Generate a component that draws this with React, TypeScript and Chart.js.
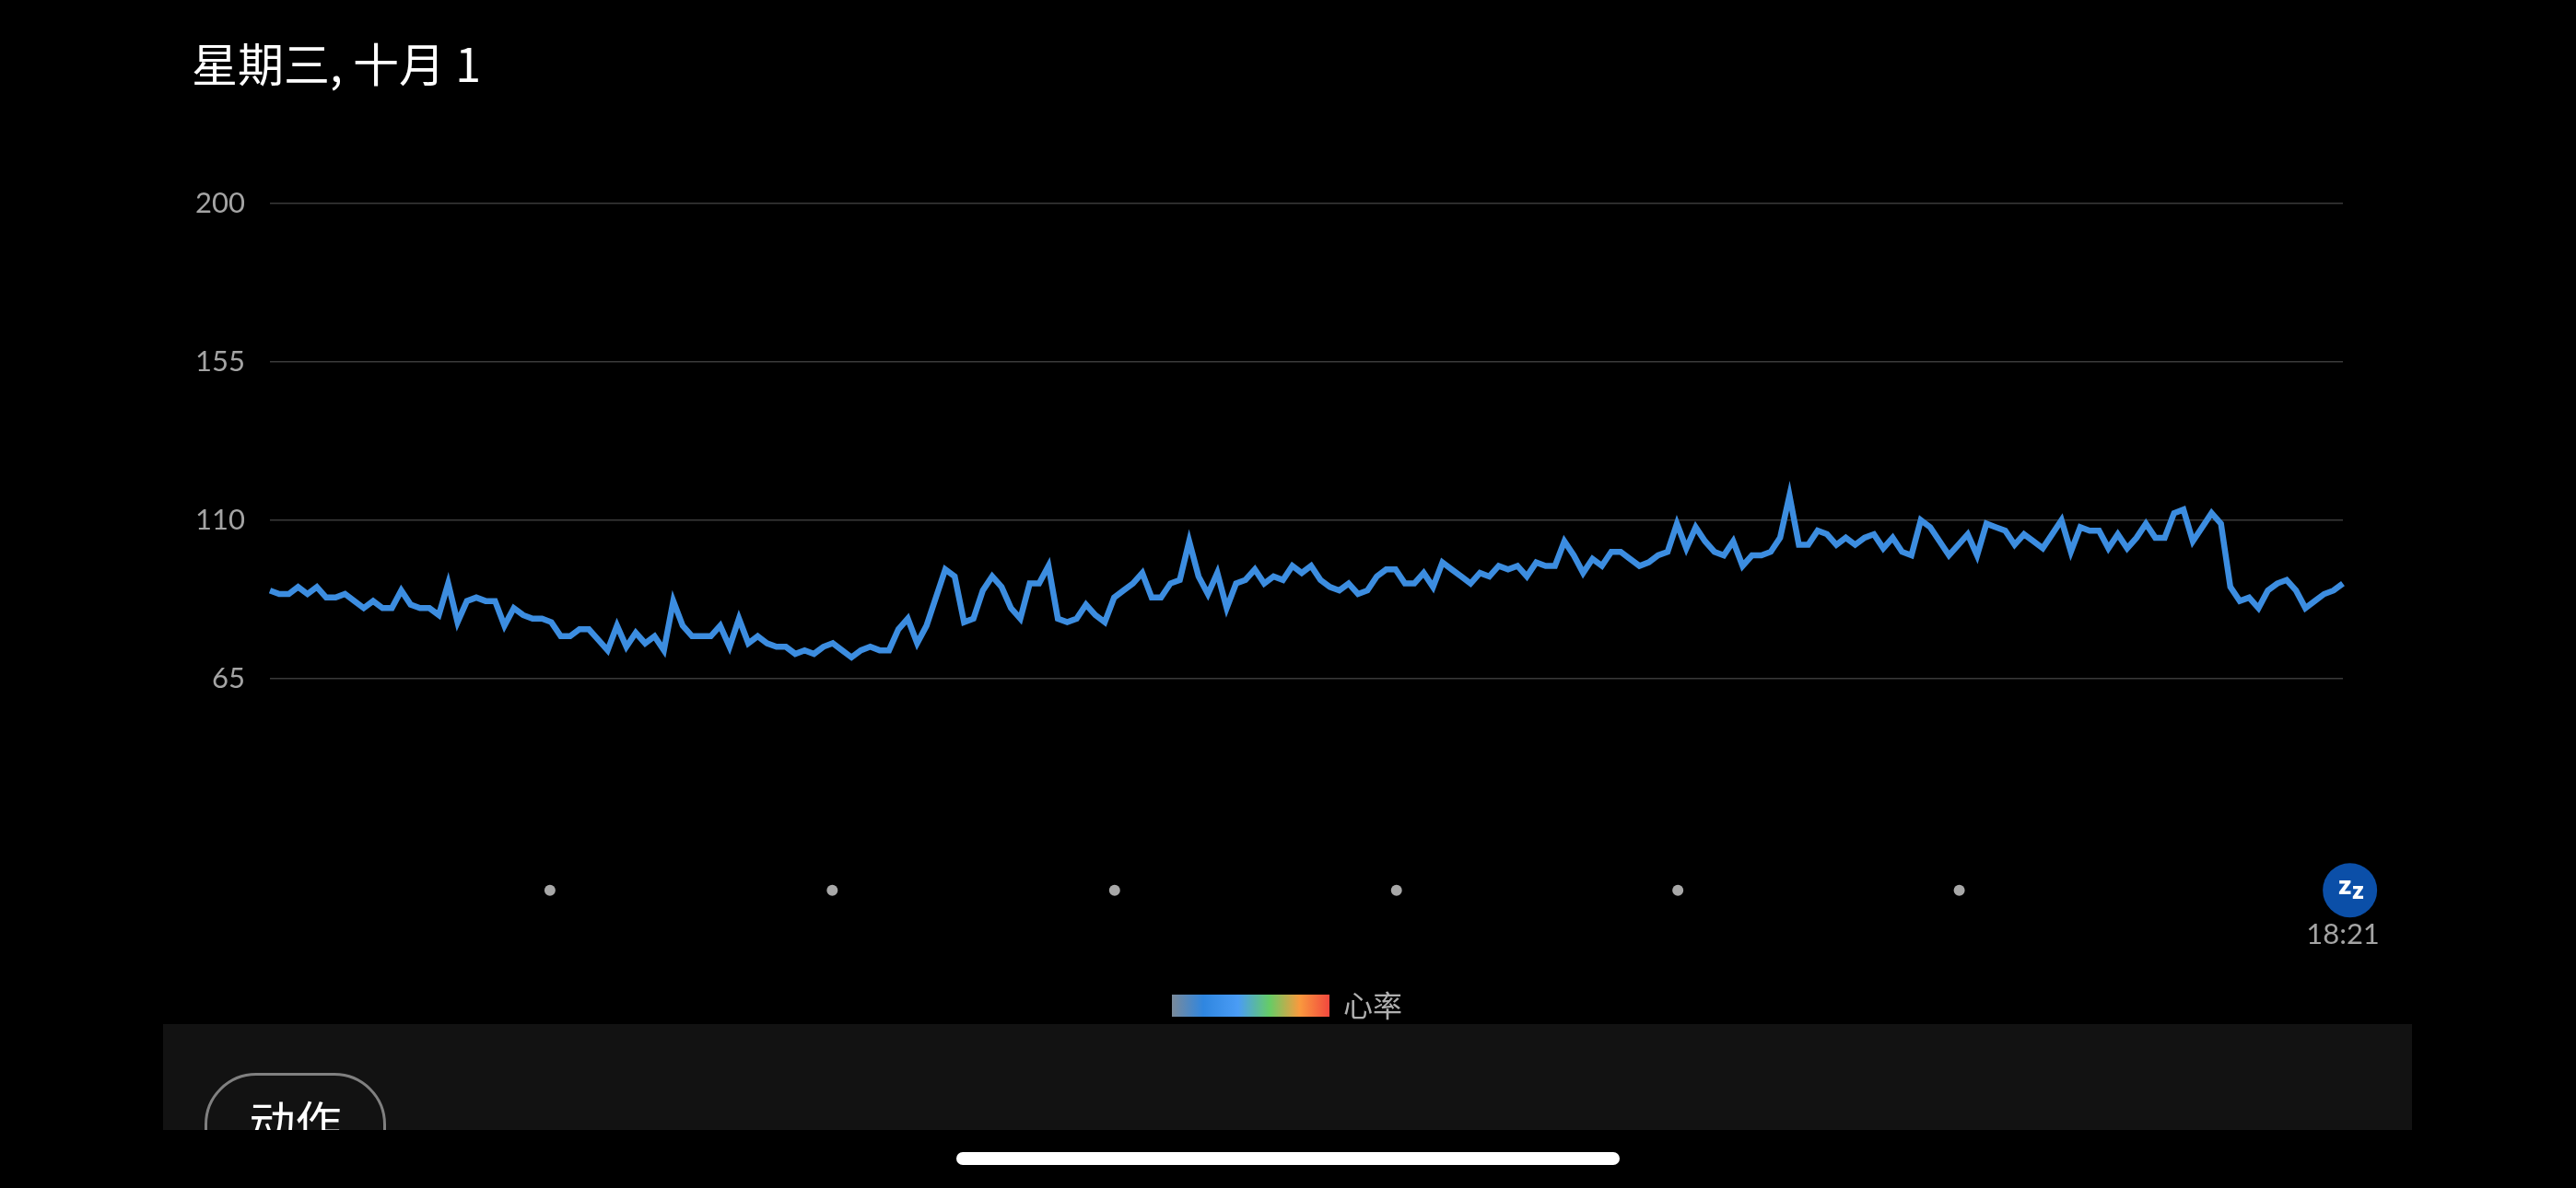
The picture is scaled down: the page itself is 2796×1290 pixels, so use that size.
import React, { useEffect, useRef } from "react";
import { Chart, registerables } from "chart.js";

Chart.register(...registerables);

const heartRate: number[] = [
  90, 89, 89, 91, 89, 91, 88, 88, 89, 87, 85, 87, 85, 85, 90, 86, 85, 85, 83, 92,
  81, 87, 88, 87, 87, 80, 85, 83, 82, 82, 81, 77, 77, 79, 79, 76, 73, 80, 74, 78,
  75, 77, 73, 87, 80, 77, 77, 77, 80, 74, 82, 75, 77, 75, 74, 74, 72, 73, 72, 74,
  75, 73, 71, 73, 74, 73, 73, 79, 82, 75, 80, 88, 96, 94, 81, 82, 90, 94, 91, 85,
  82, 92, 92, 97, 82, 81, 82, 86, 83, 81, 88, 90, 92, 95, 88, 88, 92, 93, 104, 94,
  89, 95, 85, 92, 93, 96, 92, 94, 93, 97, 95, 97, 93, 91, 90, 92, 89, 90, 94, 96,
  96, 92, 92, 95, 91, 98, 96, 94, 92, 95, 94, 97, 96, 97, 94, 98, 97, 97, 104, 100,
  95, 99, 97, 101, 101, 99, 97, 98, 100, 101, 109, 102, 108, 104, 101, 100, 104, 97, 100, 100,
  101, 105, 117, 103, 103, 107, 106, 103, 105, 103, 105, 106, 102, 105, 101, 100, 110, 108, 104, 100,
  103, 106, 100, 109, 108, 107, 103, 106, 104, 102, 106, 110, 101, 108, 107, 107, 102, 106, 102, 105,
  109, 105, 105, 112, 113, 104, 108, 112, 109, 91, 87, 88, 85, 90, 92, 93, 90, 85, 87, 89,
  90, 92,
];
const yTicks: number[] = [65, 110, 155, 200];
const activityMarkers: number[] = [29.85, 59.95, 90.05, 120.1, 150.1, 180.1];
const endLabel = "18:21";
const title = "星期三, 十月 1";
const legendLabel = "心率";
const actionLabel = "动作";

const cjk = '"Noto Sans CJK SC", "Noto Sans", sans-serif';
const box = (s: React.CSSProperties): React.CSSProperties => ({ position: "absolute", ...s });

export default function App() {
  const ref = useRef<HTMLCanvasElement>(null);
  useEffect(() => {
    const last = heartRate.length - 1;
    const chart = new Chart(ref.current!, {
      type: "line",
      data: {
        datasets: [
          {
            label: legendLabel,
            data: heartRate.map((y, x) => ({ x, y })),
            borderColor: "#3c8de0",
            borderWidth: 6.5,
            borderJoinStyle: "miter",
            pointRadius: 0,
            tension: 0,
            clip: false,
          },
          {
            label: "activity",
            data: activityMarkers.map((x) => ({ x, y: 4.8 })),
            showLine: false,
            pointRadius: 6,
            pointBorderWidth: 0,
            pointBackgroundColor: "#a8a8a8",
            clip: false,
          },
          {
            label: "sleep",
            data: [{ x: last + 0.75, y: 4.8 }],
            showLine: false,
            pointRadius: 29.5,
            pointBorderWidth: 0,
            pointBackgroundColor: "#0b4fa8",
            clip: false,
          },
        ],
      } as any,
      options: {
        animation: false,
        responsive: false,
        layout: { padding: { top: 221, right: 253, left: 0, bottom: 0 } },
        plugins: { legend: { display: false }, title: { display: false }, tooltip: { enabled: false } },
        scales: {
          x: {
            type: "linear",
            min: 0,
            max: last,
            grid: { display: false, drawTicks: false },
            border: { display: false },
            afterFit: (s: any) => { s.height = 305; },
            afterBuildTicks: (s: any) => { s.ticks = [{ value: last }]; },
            ticks: {
              callback: () => endLabel,
              autoSkip: false,
              maxRotation: 0,
              padding: 11,
              color: "#a4a4a4",
              font: { family: "Lato", size: 31, weight: 400 },
            },
          },
          y: {
            min: 0,
            max: 200,
            grid: { color: "#3a3a3a", lineWidth: 1.5, drawTicks: false },
            border: { display: false },
            afterFit: (s: any) => { s.width = 293; },
            afterBuildTicks: (s: any) => { s.ticks = yTicks.map((value) => ({ value })); },
            ticks: {
              padding: 27,
              color: "#a4a4a4",
              font: { family: "Lato", size: 31, weight: 400 },
            },
          },
        },
      },
    } as any);
    return () => chart.destroy();
  }, []);

  return (
    <div style={{ position: "fixed", left: 0, top: 0, width: 2796, height: 1290, background: "#000", overflow: "hidden" }}>
      <canvas ref={ref} width={2796} height={1290} style={{ position: "absolute", left: 0, top: 0, width: 2796, height: 1290 }} />
      <div style={box({ left: 208, top: 32, color: "#fff", fontFamily: cjk, fontSize: 50, fontWeight: 400, lineHeight: "70px", whiteSpace: "nowrap" })}>{title}</div>
      <div style={box({ left: 2522, top: 938, width: 58, height: 58, color: "#fff", fontFamily: "Roboto", fontWeight: 900 })}>
        <span style={box({ left: 16, top: 10, fontSize: 28, lineHeight: "28px" })}>z</span>
        <span style={box({ left: 31, top: 17, fontSize: 25, lineHeight: "26px" })}>z</span>
      </div>
      <div style={box({ left: 1272, top: 1080, width: 171, height: 24, background: "linear-gradient(90deg,#7a8a9a 0%,#2f86e0 20%,#4a9cf5 42%,#66cc66 62%,#f99a3e 81%,#f2483e 100%)" })} />
      <div style={box({ left: 1458, top: 1067, color: "#b0b0b0", fontFamily: cjk, fontSize: 32, fontWeight: 400, lineHeight: "46px" })}>{legendLabel}</div>
      <div style={box({ left: 177, top: 1112, width: 2441, height: 115, background: "#121212", overflow: "hidden" })}>
        <div style={box({ left: 45, top: 53, width: 197, height: 120, boxSizing: "border-box", border: "3px solid #808080", borderRadius: 56 })} />
        <div style={box({ left: 45, top: 69, width: 197, textAlign: "center", color: "#fff", fontFamily: cjk, fontSize: 50, fontWeight: 400, lineHeight: "70px" })}>{actionLabel}</div>
      </div>
      <div style={box({ left: 1038, top: 1251, width: 720, height: 14, background: "#fff", borderRadius: 7 })} />
    </div>
  );
}
